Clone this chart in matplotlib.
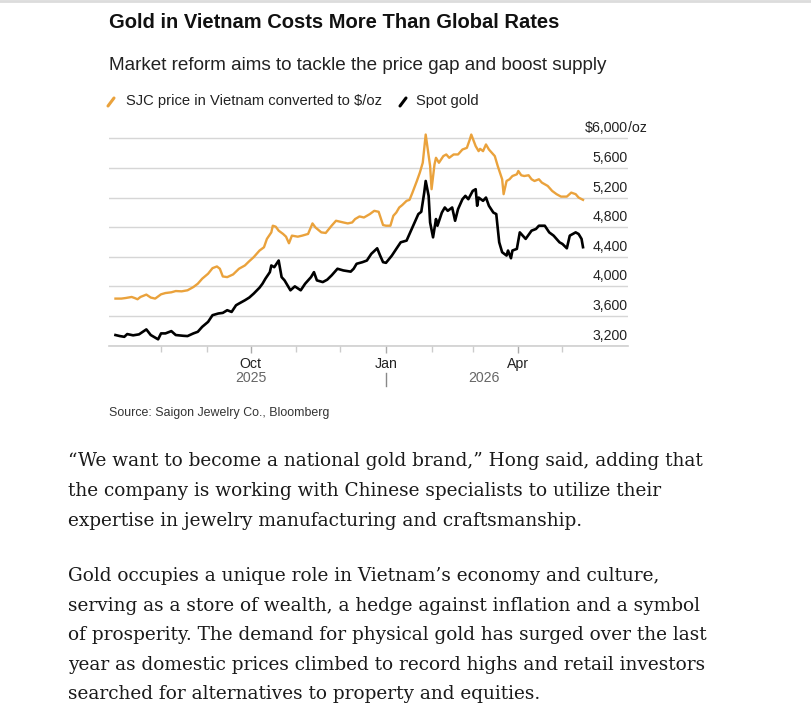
import pandas as pd
import matplotlib
matplotlib.use("Agg")
import matplotlib.pyplot as plt
import matplotlib.transforms as mtransforms
from matplotlib.lines import Line2D

plt.rcParams['font.family'] = ['Liberation Sans', 'DejaVu Sans']

# spot gold, $/oz
spot_dates = ["2025-07-01", "2025-07-04", "2025-07-07", "2025-07-09", "2025-07-13", "2025-07-17",
              "2025-07-22", "2025-07-25", "2025-07-30", "2025-08-01", "2025-08-04", "2025-08-08",
              "2025-08-11", "2025-08-16", "2025-08-19", "2025-08-23", "2025-08-26", "2025-08-29",
              "2025-09-02", "2025-09-05", "2025-09-09", "2025-09-12", "2025-09-15", "2025-09-18",
              "2025-09-21", "2025-09-23", "2025-09-27", "2025-09-30", "2025-10-03", "2025-10-07",
              "2025-10-09", "2025-10-11", "2025-10-14", "2025-10-15", "2025-10-17", "2025-10-20",
              "2025-10-22", "2025-10-24", "2025-10-28", "2025-10-31", "2025-11-04", "2025-11-07",
              "2025-11-11", "2025-11-13", "2025-11-15", "2025-11-19", "2025-11-22", "2025-11-25",
              "2025-11-29", "2025-12-03", "2025-12-08", "2025-12-10", "2025-12-12", "2025-12-16",
              "2025-12-19", "2025-12-22", "2025-12-26", "2025-12-28", "2025-12-30", "2026-01-01",
              "2026-01-05", "2026-01-08", "2026-01-11", "2026-01-15", "2026-01-17", "2026-01-20",
              "2026-01-23", "2026-01-25", "2026-01-27", "2026-01-28", "2026-01-30", "2026-01-31",
              "2026-02-02", "2026-02-04", "2026-02-05", "2026-02-08", "2026-02-10", "2026-02-12",
              "2026-02-15", "2026-02-17", "2026-02-19", "2026-02-22", "2026-02-24", "2026-02-26",
              "2026-03-01", "2026-03-03", "2026-03-04", "2026-03-05", "2026-03-08", "2026-03-10",
              "2026-03-12", "2026-03-15", "2026-03-17", "2026-03-19", "2026-03-21", "2026-03-24",
              "2026-03-25", "2026-03-27", "2026-03-28", "2026-03-31", "2026-04-02", "2026-04-04",
              "2026-04-06", "2026-04-10", "2026-04-13", "2026-04-15", "2026-04-19", "2026-04-22",
              "2026-04-25", "2026-04-29", "2026-05-01", "2026-05-04", "2026-05-06", "2026-05-10",
              "2026-05-12", "2026-05-14", "2026-05-15"]
spot_vals = [3344, 3330, 3320, 3357, 3340, 3353,
             3420, 3344, 3286, 3366, 3366, 3397,
             3344, 3334, 3330, 3366, 3388, 3455,
             3522, 3612, 3635, 3643, 3679, 3656,
             3746, 3769, 3813, 3850, 3903, 3984,
             4037, 4105, 4193, 4283, 4260, 4350,
             4126, 4082, 3948, 4001, 3948, 4037,
             4126, 4193, 4082, 4059, 4091, 4149,
             4239, 4216, 4200, 4239, 4306, 4328,
             4350, 4440, 4515, 4417, 4328, 4319,
             4417, 4507, 4596, 4619, 4709, 4843,
             4977, 5008, 5267, 5424, 5223, 4864,
             4663, 4910, 4820, 4998, 5066, 5021,
             5066, 4887, 5044, 5178, 5223, 5178,
             5290, 5313, 5089, 5200, 5156, 5200,
             5089, 4998, 4977, 4596, 4462, 4417,
             4485, 4381, 4485, 4507, 4730, 4686,
             4642, 4753, 4776, 4820, 4820, 4730,
             4686, 4596, 4574, 4515, 4686, 4730,
             4708, 4642, 4530]

# SJC price in Vietnam converted to $/oz
sjc_dates = ["2025-07-01", "2025-07-05", "2025-07-08", "2025-07-12", "2025-07-14", "2025-07-16",
             "2025-07-18", "2025-07-22", "2025-07-25", "2025-07-28", "2025-08-01", "2025-08-04",
             "2025-08-08", "2025-08-11", "2025-08-15", "2025-08-19", "2025-08-23", "2025-08-26",
             "2025-08-29", "2025-09-02", "2025-09-05", "2025-09-08", "2025-09-10", "2025-09-12",
             "2025-09-15", "2025-09-19", "2025-09-23", "2025-09-27", "2025-09-30", "2025-10-03",
             "2025-10-07", "2025-10-10", "2025-10-12", "2025-10-15", "2025-10-16", "2025-10-18",
             "2025-10-20", "2025-10-23", "2025-10-25", "2025-10-27", "2025-10-29", "2025-11-02",
             "2025-11-05", "2025-11-09", "2025-11-12", "2025-11-14", "2025-11-18", "2025-11-21",
             "2025-11-25", "2025-11-28", "2025-12-03", "2025-12-06", "2025-12-09", "2025-12-11",
             "2025-12-14", "2025-12-17", "2025-12-21", "2025-12-24", "2025-12-27", "2025-12-30",
             "2026-01-01", "2026-01-04", "2026-01-06", "2026-01-08", "2026-01-10", "2026-01-12",
             "2026-01-15", "2026-01-17", "2026-01-19", "2026-01-22", "2026-01-24", "2026-01-26",
             "2026-01-28", "2026-01-31", "2026-02-01", "2026-02-03", "2026-02-04", "2026-02-06",
             "2026-02-09", "2026-02-11", "2026-02-13", "2026-02-16", "2026-02-19", "2026-02-22",
             "2026-02-25", "2026-02-27", "2026-02-28", "2026-03-03", "2026-03-05", "2026-03-06",
             "2026-03-08", "2026-03-10", "2026-03-12", "2026-03-16", "2026-03-18", "2026-03-21",
             "2026-03-22", "2026-03-24", "2026-03-26", "2026-03-28", "2026-03-31", "2026-04-01",
             "2026-04-03", "2026-04-05", "2026-04-08", "2026-04-10", "2026-04-12", "2026-04-15",
             "2026-04-17", "2026-04-21", "2026-04-24", "2026-04-27", "2026-04-30", "2026-05-04",
             "2026-05-07", "2026-05-10", "2026-05-12", "2026-05-15"]
sjc_vals = [3836, 3836, 3844, 3858, 3844, 3827,
            3858, 3890, 3850, 3836, 3894, 3911,
            3921, 3938, 3934, 3948, 3992, 4037,
            4105, 4172, 4247, 4270, 4239, 4135,
            4126, 4162, 4239, 4283, 4341, 4395,
            4485, 4529, 4642, 4730, 4820, 4807,
            4753, 4709, 4672, 4583, 4686, 4672,
            4686, 4709, 4851, 4797, 4730, 4722,
            4820, 4887, 4864, 4851, 4864, 4910,
            4945, 4931, 4977, 5021, 5008, 4829,
            4820, 4820, 4954, 4998, 5066, 5098,
            5156, 5169, 5267, 5424, 5536, 5670,
            6051, 5626, 5313, 5648, 5737, 5670,
            5760, 5782, 5737, 5782, 5782, 5849,
            5871, 5984, 6051, 5894, 5827, 5858,
            5827, 5917, 5849, 5760, 5626, 5447,
            5246, 5424, 5447, 5491, 5514, 5559,
            5501, 5491, 5501, 5447, 5424, 5447,
            5402, 5357, 5290, 5246, 5213, 5213,
            5267, 5246, 5200, 5169]

y_ticks = [3200, 3600, 4000, 4400, 4800, 5200, 5600, 6000]
y_labels = ["3,200", "3,600", "4,000", "4,400", "4,800", "5,200", "5,600", "$6,000"]
major_dates = ["2025-10-01", "2026-01-01", "2026-04-01"]
major_labels = ["Oct", "Jan", "Apr"]
minor_dates = ["2025-08-01", "2025-09-01", "2025-11-01", "2025-12-01",
               "2026-02-01", "2026-03-01", "2026-05-01"]

title = "Gold in Vietnam Costs More Than Global Rates"
subtitle = "Market reform aims to tackle the price gap and boost supply"
source = "Source: Saigon Jewelry Co., Bloomberg"
para1 = ["\u201cWe want to become a national gold brand,\u201d Hong said, adding that",
         "the company is working with Chinese specialists to utilize their",
         "expertise in jewelry manufacturing and craftsmanship."]
para2 = ["Gold occupies a unique role in Vietnam\u2019s economy and culture,",
         "serving as a store of wealth, a hedge against inflation and a symbol",
         "of prosperity. The demand for physical gold has surged over the last",
         "year as domestic prices climbed to record highs and retail investors",
         "searched for alternatives to property and equities."]

ORANGE = '#eaa23c'
W, H = 812, 726

def fx(px):
    return px / W

def fy(py):
    return 1 - py / H

fig = plt.figure(figsize=(W / 100, H / 100), dpi=100)
fig.patch.set_facecolor('white')

# thin grey rule at the very top
fig.add_artist(Line2D([0, 1], [fy(1), fy(1)], color='#dcdcdc', lw=2))

fig.text(fx(109), fy(23), title, fontsize=14.5, fontweight='bold', color='#111', va='center')
fig.text(fx(109), fy(66), subtitle, fontsize=13.6, color='#222', va='center')

# legend
fig.add_artist(Line2D([fx(108), fx(114)], [fy(106), fy(98)], color=ORANGE, lw=2.2,
                      solid_capstyle='round'))
fig.text(fx(126), fy(101), "SJC price in Vietnam converted to $/oz", fontsize=10.6,
         color='#222', va='center')
fig.add_artist(Line2D([fx(400), fx(406)], [fy(106), fy(98)], color='black', lw=2.2,
                      solid_capstyle='round'))
fig.text(fx(416), fy(101), "Spot gold", fontsize=10.6, color='#222', va='center')

ax = fig.add_axes([fx(109), fy(345.7), fx(628) - fx(109), fy(123.5) - fy(345.7)])
ax.set_facecolor('none')

sjc_x = pd.to_datetime(sjc_dates)
spot_x = pd.to_datetime(spot_dates)
ax.plot(sjc_x, sjc_vals, color=ORANGE, lw=1.7, solid_joinstyle='round', zorder=3)
ax.plot(spot_x, spot_vals, color='black', lw=1.9, solid_joinstyle='round', zorder=4)

oct1 = pd.Timestamp("2025-10-01")
ax.set_xlim(oct1 - pd.Timedelta(days=96.4), oct1 + pd.Timedelta(days=256.6))
ax.set_ylim(3200, 6200)

for s in ax.spines.values():
    s.set_visible(False)

ax.set_yticks(y_ticks)
ax.set_yticklabels([])
ax.tick_params(axis='y', length=0)
ax.grid(axis='y', color='#d6d6d6', lw=1)
ax.axhline(3200, color='#cfcfcf', lw=1.2, clip_on=False, zorder=2)

ax.set_xticks(pd.to_datetime(major_dates))
ax.set_xticklabels(major_labels)
ax.set_xticks(pd.to_datetime(minor_dates), minor=True)
ax.tick_params(axis='x', which='major', length=5, width=1, color='#aaaaaa', pad=3,
               labelsize=10.2, labelcolor='#222')
ax.tick_params(axis='x', which='minor', length=4, width=1, color='#cccccc')

# right-hand value labels sitting above each gridline
lab_tr = mtransforms.offset_copy(ax.get_yaxis_transform(), fig=fig, x=0, y=10, units='dots')
for v, lab in zip(y_ticks, y_labels):
    ax.text(1.0, v, lab, transform=lab_tr, ha='right', va='center', fontsize=10.2, color='#222')
ax.text(1.0, 6000, "/oz", transform=lab_tr, ha='left', va='center', fontsize=10.2, color='#222')

# year labels
fig.text(fx(251), fy(378), "2025", fontsize=10.2, color='#666', ha='center', va='center')
fig.text(fx(484), fy(378), "2026", fontsize=10.2, color='#666', ha='center', va='center')
fig.add_artist(Line2D([fx(386.5), fx(386.5)], [fy(373), fy(386)], color='#888', lw=1))

fig.text(fx(109), fy(413), source, fontsize=8.9, color='#333', va='center')

# article body text, sized so the first line spans x=68..703 like the page
serif = ['DejaVu Serif', 'Liberation Serif']
body = []
for i, line in enumerate(para1):
    body.append(fig.text(fx(68), fy(461 + i * 29.8), line, fontsize=13, family=serif,
                         color='#1a1a1a', va='center'))
for i, line in enumerate(para2):
    body.append(fig.text(fx(68), fy(576 + i * 29.6), line, fontsize=13, family=serif,
                         color='#1a1a1a', va='center'))
renderer = fig.canvas.get_renderer()
w0 = body[0].get_window_extent(renderer).width
size = 13 * 635 / w0
for t in body:
    t.set_fontsize(size)

fig.savefig("out.png", dpi=100, facecolor='white')
